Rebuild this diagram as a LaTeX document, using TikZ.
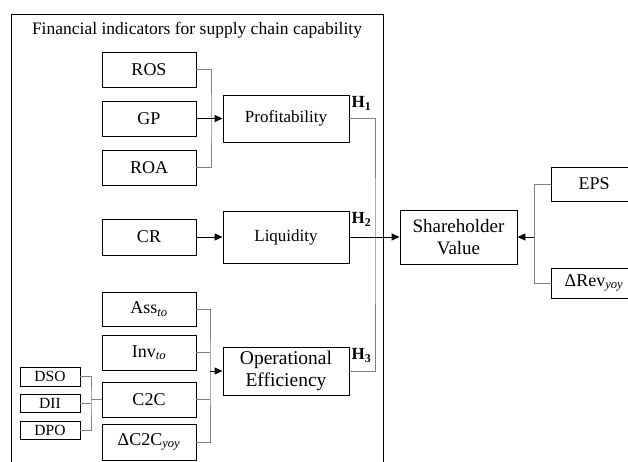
\documentclass[tikz,border=0pt]{standalone}
\usepackage{fontspec}
\setmainfont{Liberation Serif}
\usepackage{tikz}
\usetikzlibrary{arrows.meta}

\begin{document}
\begin{tikzpicture}[x=1pt,y=-1pt,
            font=\fontsize{17.5}{19}\selectfont,
            box/.style={draw=black,line width=0.9pt,minimum width=94pt,minimum height=35pt,inner sep=0pt,font=\fontsize{18}{20}\selectfont},
            bigbox/.style={box,minimum width=126pt,minimum height=48pt,align=center,font=\fontsize{17}{19}\selectfont},
            smallbox/.style={box,minimum width=60pt,minimum height=18pt,font=\fontsize{15.5}{17}\selectfont},
            link/.style={draw=gray,line width=0.7pt},
            flow/.style={draw=black,line width=1pt,-{Triangle[length=8pt,width=7pt]}},
            hlab/.style={inner sep=2pt,anchor=north west,font=\fontsize{17}{19}\selectfont}]
            \useasboundingbox (0,0) rectangle (628,461);
            \clip (0,0) rectangle (628,461);
            \draw [black,line width=1pt] (11,14) rectangle (383,475);
            \node (title) at (197,30) {Financial indicators for supply chain capability};
            \node [box] (ros) at (149,69.5) {ROS};
            \node [box] (gp) at (149,118.5) {GP};
            \node [box] (roa) at (149,167.5) {ROA};
            \node [box,minimum height=36pt] (cr) at (149,237) {CR};
            \node [box,minimum height=34pt] (ass) at (149,309) {Ass\textsubscript{\textit{to}}};
            \node [box] (inv) at (149,352.5) {Inv\textsubscript{\textit{to}}};
            \node [box] (ctc) at (149,399.5) {C2C};
            \node [box,minimum height=36pt] (dctc) at (149,442) {ΔC2C\textsubscript{\textit{yoy}}};
            \node [smallbox,minimum height=19pt] (dso) at (50,376.5) {DSO};
            \node [smallbox] (dii) at (50,403) {DII};
            \node [smallbox] (dpo) at (50,430) {DPO};
            \node [bigbox,minimum height=47pt] (prof) at (286,118.5) {Profitability};
            \node [bigbox,minimum height=52pt] (liq) at (286,237) {Liquidity};
            \node [bigbox,font=\fontsize{19.5}{22}\selectfont] (opeff) at (286,371) {Operational\\Efficiency};
            \node [bigbox,minimum width=117pt,minimum height=54pt,font=\fontsize{19}{22}\selectfont] (shv) at (458.5,237) {Shareholder\\Value};
            \node [box,minimum width=86pt,minimum height=34pt] (eps) at (594,184) {EPS};
            \node [box,minimum width=86pt,minimum height=30pt] (drev) at (594,283) {ΔRev\textsubscript{\textit{yoy}}};
            \node [hlab] (h1) at (prof.north east) {\textbf{H\textsubscript{1}}};
            \node [hlab] (h2) at (liq.north east) {\textbf{H\textsubscript{2}}};
            \node [hlab] (h3) at (opeff.north east) {\textbf{H\textsubscript{3}}};
            \coordinate (jp) at (211,118.5);
            \coordinate (jo) at (210,371);
            \coordinate (jd) at (91,399.5);
            \coordinate (jh) at (375,237);
            \coordinate (js) at (534,237);
            \draw [link] (ros.east) -| (jp) |- (roa.east);
            \draw [flow] (gp.east) -- (prof.west);
            \draw [flow] (cr.east) -- (liq.west);
            \draw [link] (ass.east) -| (jo) |- (dctc.east);
            \draw [link] (inv.east) -- (inv.east -| jo);
            \draw [link] (ctc.east) -- (ctc.east -| jo);
            \draw [flow] (jo) -- (opeff.west);
            \draw [link] (dso.east) -| (jd) |- (dpo.east);
            \draw [link] (dii.east) -- (dii.east -| jd);
            \draw [link] (jd) -- (ctc.west);
            \draw [link] (prof.east) -| (jh) |- (opeff.east);
            \draw [flow] (liq.east) -- (shv.west);
            \draw [link] (eps.west) -| (js) |- (drev.west);
            \draw [flow] (js) -- (shv.east);
\end{tikzpicture}
\end{document}
